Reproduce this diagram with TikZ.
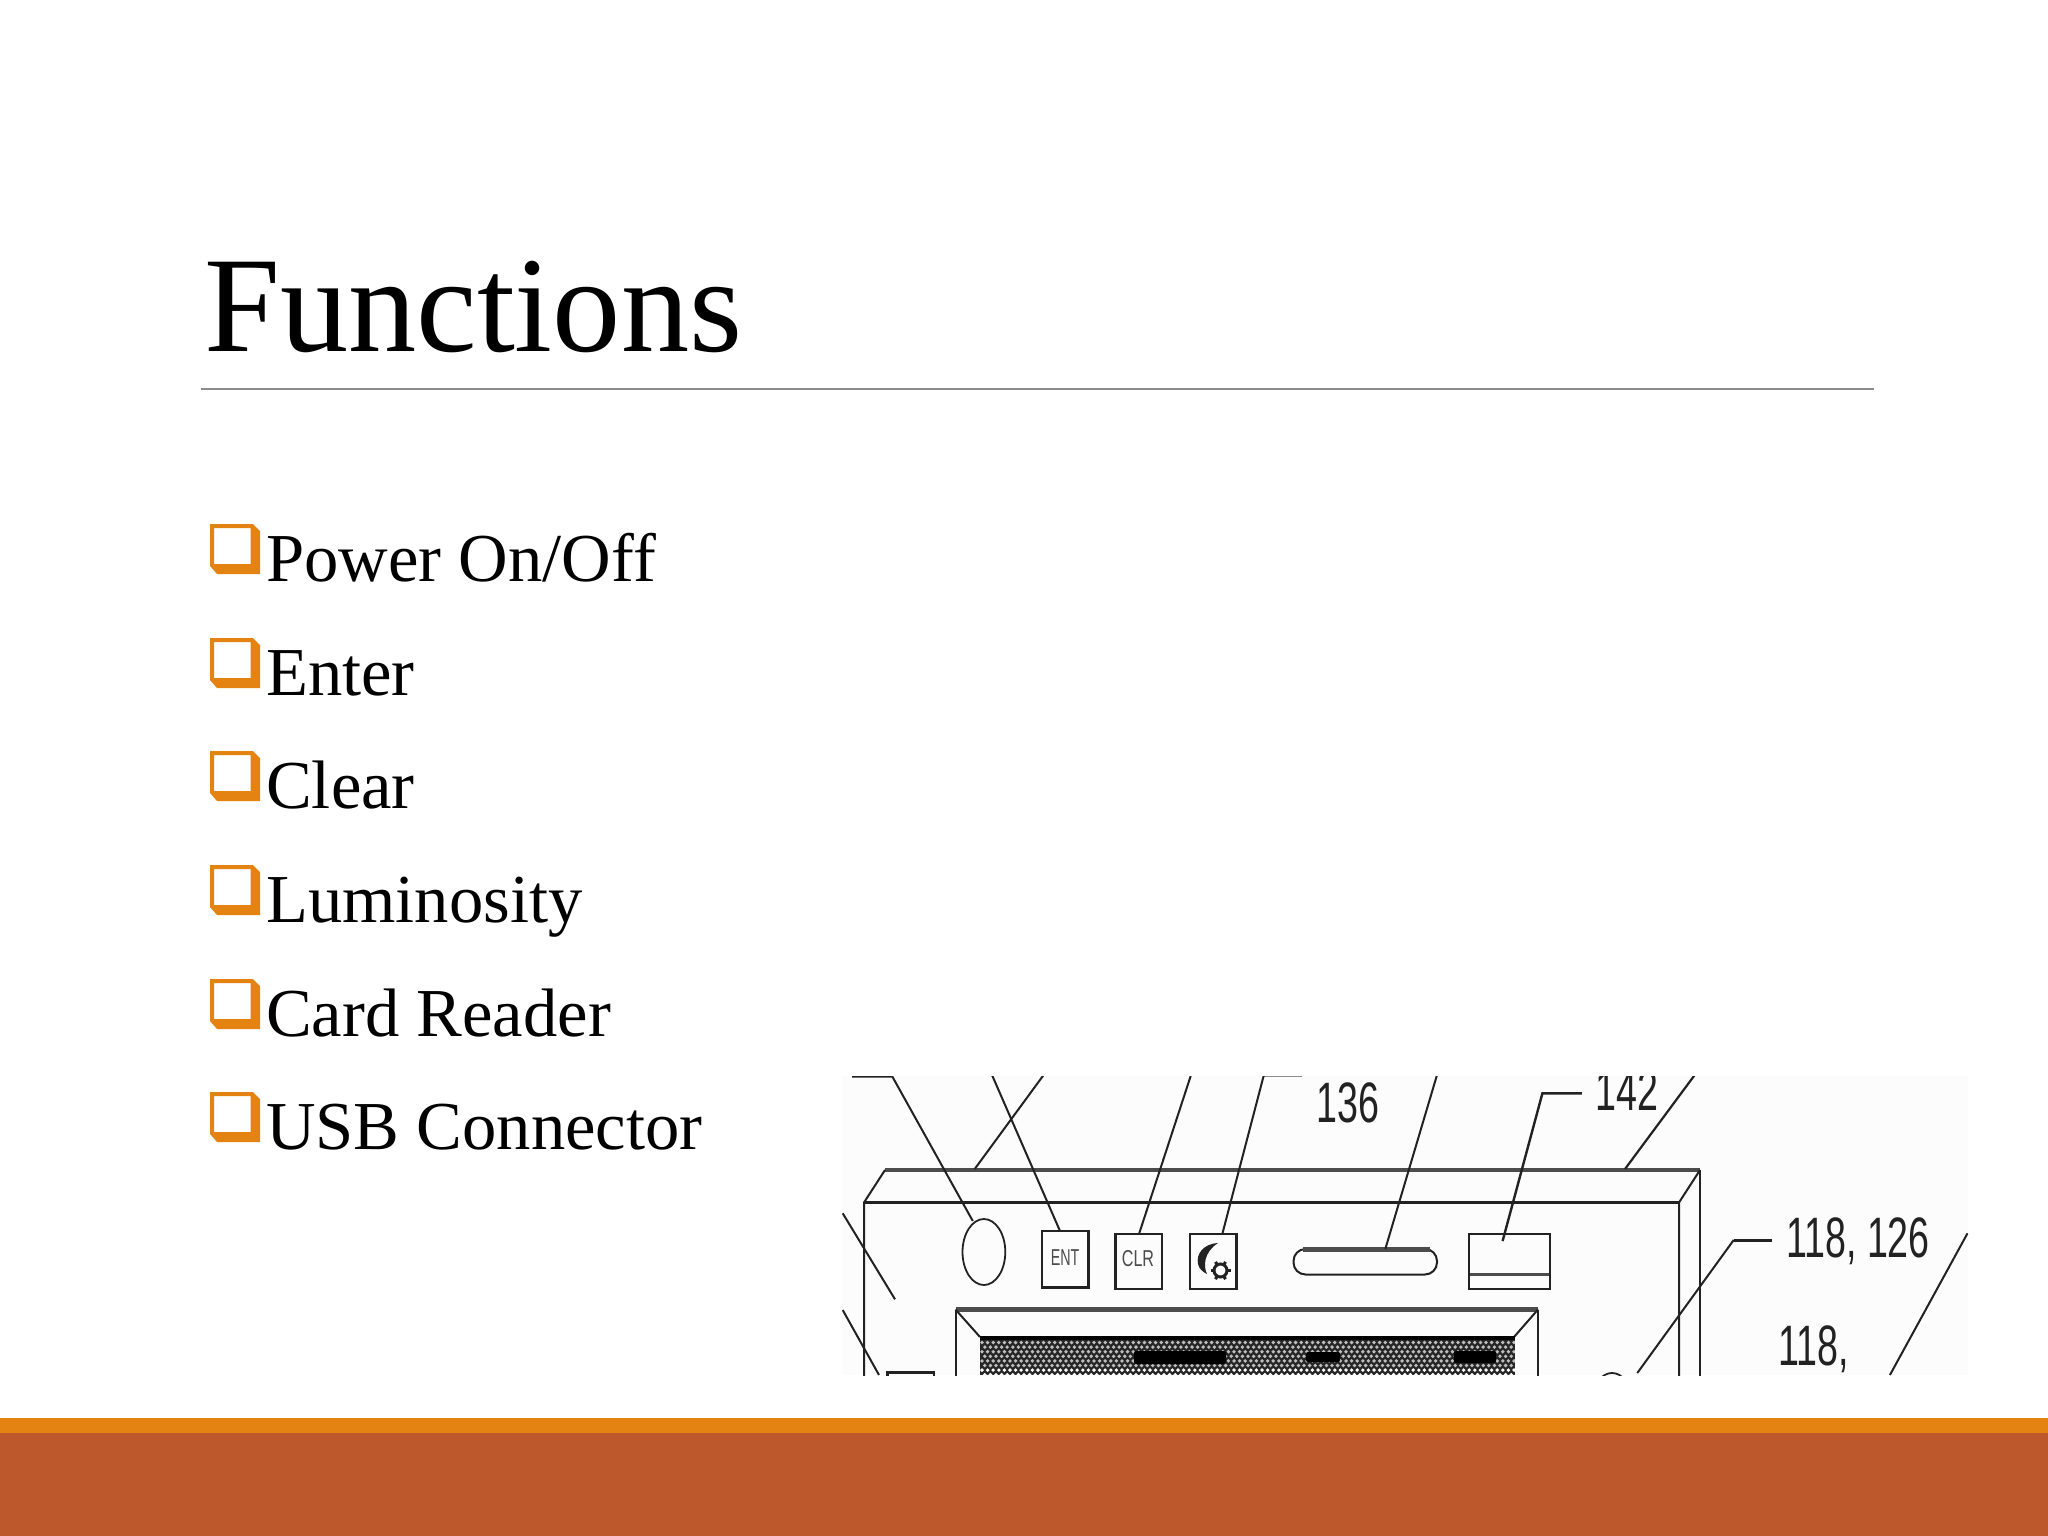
\documentclass[tikz,border=0pt]{standalone}
\usepackage{fontspec}
\setmainfont{Liberation Serif}
\newfontfamily\figfont{Liberation Sans}
\definecolor{accentorange}{HTML}{E48312}
\definecolor{accentbrown}{HTML}{BD582C}
\definecolor{inkline}{HTML}{222222}
\tikzset{
  titletext/.style={anchor=base west,inner sep=0pt,font=\fontsize{136.4}{140}\selectfont,text=black},
  bodytext/.style={anchor=base west,inner sep=0pt,font=\fontsize{68.6}{72}\selectfont,text=black},
  figlabel/.style={anchor=base west,inner sep=0pt,text=inkline,font=\figfont\fontsize{57}{60}\selectfont},
  keylabel/.style={anchor=center,inner sep=0pt,text=black!70,font=\figfont\fontsize{23}{24}\selectfont},
  fineline/.style={draw=inkline,line width=2pt},
  heavyline/.style={draw=black!70,line width=3.4pt},
  bullet/.pic={
    \fill[accentorange,even odd rule] (0,0) -- (43,0) -- (50,7) -- (50,50) -- (7,50) -- (0,42) -- cycle
      (4,4) rectangle (40.5,40);
  }
}
\newcommand{\figtext}[1]{\scalebox{.66}[1]{#1}}
\begin{document}
\begin{tikzpicture}[x=1pt,y=-1pt]
\useasboundingbox (0,0) rectangle (2048,1536);
\fill[white] (0,0) rectangle (2048,1536);
% footer bands
\fill[accentorange] (0,1418) rectangle (2048,1434);
\fill[accentbrown] (0,1433) rectangle (2048,1536);
% title
\node[titletext] (title) at (204,351) {Functions};
\draw[black!45,line width=1.6pt] (201,389) -- (1874,389);
% bullets
\foreach \yy/\txt/\nm in {581/{\addfontfeature{Kerning=Off}Power On\slash Off}/pw,695/Enter/en,808/Clear/cl,922/Luminosity/lu,1036/Card Reader/cr,1149/USB Connector/us}{
  \pic at (210,\yy-57) {bullet};
  \node[bodytext] (b\nm) at (266,\yy) {\txt};
}
% figure
\begin{scope}
\clip (842,1076) rectangle (1968,1375);
\fill[black!1] (842,1076) rectangle (1968,1375);
% housing
\draw[heavyline] (885,1170) -- (1700,1170);
\draw[fineline,line width=2.8pt] (864,1202.5) -- (1679,1202.5);
\draw[fineline] (885,1170) -- (864,1202.5) -- (864,1380);
\draw[fineline] (1700,1170) -- (1679,1202.5) -- (1679,1380);
\draw[fineline,line width=2.6pt] (1700,1170) -- (1700,1380);
% controls
\draw[fineline,line width=1.8pt] (983.9,1252) ellipse [x radius=21.4,y radius=33];
\draw[fineline,line width=2.4pt] (1042,1231) rectangle (1088.5,1287.5);
\node[keylabel] (ent) at (1065,1257.5) {\scalebox{.62}[1]{ENT}};
\draw[fineline,line width=2.8pt] (1115.5,1234) rectangle (1162,1289);
\node[keylabel] (clr) at (1138,1258.5) {\scalebox{.7}[1]{CLR}};
\draw[fineline,line width=2.8pt] (1190,1234) rectangle (1236.5,1289);
% moon and gear
\fill[inkline] (1218,1243) .. controls (1203,1244) and (1196,1254) .. (1198,1264) .. controls (1199,1269) and (1203,1272) .. (1207,1274)
  .. controls (1203,1266) and (1204,1252) .. (1218,1243) -- cycle;
\draw[inkline,line width=3pt] (1220.5,1270.5) circle [radius=6.5];
\foreach \a in {0,60,...,300}{\draw[inkline,line width=3pt] (1220.5,1270.5)++(\a:6) -- ++(\a:4);}
% card slot
\draw[fineline,line width=2pt,rounded corners=12pt] (1293.5,1249) rectangle (1437,1274.5);
\draw[black!70,line width=4.5pt] (1303,1249.5) -- (1430,1249.5);
% usb port
\draw[fineline,line width=2.8pt] (1469,1234) rectangle (1550,1289);
\draw[black!70,line width=3.2pt] (1470,1274.3) -- (1549,1274.3);
% display
\draw[heavyline,line width=4.6pt] (955.5,1309.5) -- (1538,1309.5);
\draw[fineline] (955.5,1309.5) -- (955.5,1380);
\draw[fineline] (1538,1309.5) -- (1538,1380);
\draw[fineline] (955.5,1309.5) -- (980,1337);
\draw[fineline] (1538,1309.5) -- (1514,1337);
\fill[black!85] (980,1336) rectangle (1515,1375);
\fill[black] (980,1336) rectangle (1515,1340);
\foreach \r in {0,...,7}{
  \pgfmathsetmacro{\yy}{1342.5+4.6*\r}
  \pgfmathsetmacro{\xs}{982+2.8*mod(\r,2)}
  \pgfmathsetmacro{\op}{\r>5?1:0.7}
  \foreach \k in {0,2,...,190}{
    \fill[white,opacity=\op] (\xs+2.8*\k,\yy) circle [radius=1.9];
  }
}
\fill[black,rounded corners=2pt] (1134,1351) rectangle (1226,1364);
\fill[black,rounded corners=2pt] (1306,1352) rectangle (1340,1362);
\fill[black,rounded corners=2pt] (1454,1351) rectangle (1496,1363);
% labels
\node[figlabel] (l136) at (1316,1122) {\figtext{136}};
\node[figlabel] (l142) at (1595,1110) {\figtext{142}};
\node[figlabel] (l118a) at (1786,1257) {\figtext{118, 126}};
\node[figlabel] (l118b) at (1778,1365) {\figtext{118,}};
% leaders
\draw[fineline] (852,1076.7) -- (892.4,1076.7) -- (972.8,1221);
\draw[fineline] (992,1075) -- (1060,1231);
\draw[fineline] (1043.6,1075) -- (974.7,1169);
\draw[fineline] (1191,1075) -- (1139,1234);
\draw[fineline,draw=black!45] (1302,1076) -- (1263.6,1076);
\draw[fineline] (1263.6,1076) -- (1222.3,1234);
\draw[fineline] (1437,1075) -- (1385.3,1249);
\draw[fineline,line width=2.4pt] (1581.8,1093.3) -- (1542.4,1093.3) -- (1502.6,1241);
\draw[fineline,line width=2.2pt] (1694.7,1075) -- (1625,1169);
\draw[fineline,line width=3pt] (1772,1240) -- (1733.7,1240);
\draw[fineline] (1733.7,1240) -- (1637.3,1373);
\draw[fineline] (1967.5,1233.3) -- (1889.9,1375);
\draw[fineline] (842.7,1213.3) -- (895,1299.3);
\draw[fineline] (842.7,1310) -- (879,1375);
% parts cut off by the crop
\draw[fineline,line width=2.2pt] (887.4,1380) -- (887.4,1372.5) -- (933.7,1372.5) -- (933.7,1380);
\draw[fineline,line width=1.8pt] (1612,1396) ellipse [x radius=18,y radius=23];
\end{scope}
\end{tikzpicture}
\end{document}
